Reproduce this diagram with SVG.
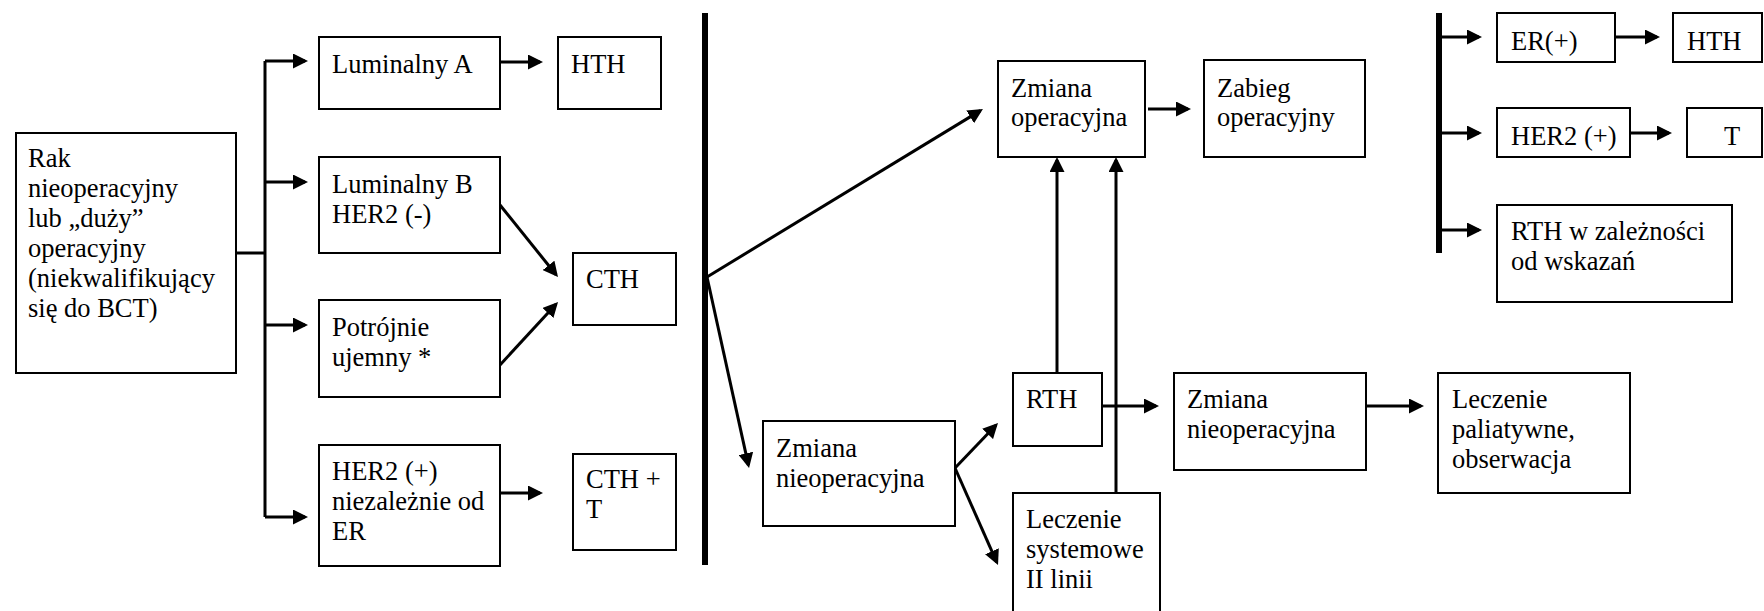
<svg xmlns="http://www.w3.org/2000/svg" width="1764" height="611" viewBox="0 0 1764 611">
<defs>
<marker id="ah" markerUnits="userSpaceOnUse" markerWidth="15" markerHeight="15" refX="12" refY="7.5" orient="auto">
<path d="M0,0 L15,7.5 L0,15 z" fill="#000"/>
</marker>
<style>
.box{fill:#fff;stroke:#000;stroke-width:2}
text{font-family:"Liberation Serif","Times New Roman",serif;font-size:26.5px;fill:#000}
.ln{stroke:#000;stroke-width:3;fill:none}
.ar{stroke:#000;stroke-width:3;fill:none;marker-end:url(#ah)}
.bar{stroke:#000;stroke-width:6;fill:none}
</style>
</defs>
<rect width="1764" height="611" fill="#fff"/>

<g id="connectors">
<line class="bar" x1="705" y1="13" x2="705" y2="565"/>
<line class="bar" x1="1439" y1="13" x2="1439" y2="253"/>
<line class="ln" x1="236" y1="253" x2="265" y2="253"/>
<line class="ln" x1="265" y1="61" x2="265" y2="517"/>
<line class="ar" x1="265" y1="61" x2="305" y2="61"/>
<line class="ar" x1="265" y1="182" x2="305" y2="182"/>
<line class="ar" x1="265" y1="325" x2="305" y2="325"/>
<line class="ar" x1="265" y1="517" x2="305" y2="517"/>
<line class="ar" x1="500" y1="62" x2="540" y2="62"/>
<line class="ar" x1="500" y1="205" x2="556.1" y2="274.7"/>
<line class="ar" x1="500" y1="365" x2="556" y2="304.2"/>
<line class="ar" x1="500" y1="493" x2="540" y2="493"/>
<line class="ar" x1="707" y1="277" x2="980.4" y2="110.6"/>
<line class="ar" x1="707" y1="277" x2="748.4" y2="465.1"/>
<line class="ar" x1="1148" y1="109" x2="1188" y2="109"/>
<line class="ar" x1="1057" y1="373" x2="1057" y2="160"/>
<line class="ar" x1="1116" y1="493" x2="1116" y2="160"/>
<line class="ar" x1="955" y1="468" x2="995.9" y2="425.2"/>
<line class="ar" x1="955" y1="468" x2="996.8" y2="562.3"/>
<line class="ar" x1="1102" y1="406" x2="1156" y2="406"/>
<line class="ar" x1="1366" y1="406" x2="1421" y2="406"/>
<line class="ar" x1="1442" y1="37" x2="1479" y2="37"/>
<line class="ar" x1="1442" y1="133" x2="1479" y2="133"/>
<line class="ar" x1="1442" y1="230" x2="1479" y2="230"/>
<line class="ar" x1="1615" y1="37" x2="1657" y2="37"/>
<line class="ar" x1="1630" y1="133" x2="1669" y2="133"/>
</g>

<g id="rak">
<rect class="box" x="16" y="133" width="220" height="240"/>
<text x="28" y="167">Rak</text>
<text x="28" y="197">nieoperacyjny</text>
<text x="28" y="227">lub „duży”</text>
<text x="28" y="257">operacyjny</text>
<text x="28" y="287">(niekwalifikujący</text>
<text x="28" y="317">się do BCT)</text>
</g>

<g id="lumA">
<rect class="box" x="319" y="37" width="181" height="72"/>
<text x="332" y="73">Luminalny A</text>
</g>

<g id="hth1">
<rect class="box" x="558" y="37" width="103" height="72"/>
<text x="571" y="73">HTH</text>
</g>

<g id="lumB">
<rect class="box" x="319" y="157" width="181" height="96"/>
<text x="332" y="193">Luminalny B</text>
<text x="332" y="223">HER2 (-)</text>
</g>

<g id="cth">
<rect class="box" x="573" y="253" width="103" height="72"/>
<text x="586" y="288">CTH</text>
</g>

<g id="potrojnie">
<rect class="box" x="319" y="300" width="181" height="97"/>
<text x="332" y="336">Potrójnie</text>
<text x="332" y="366">ujemny *</text>
</g>

<g id="her2">
<rect class="box" x="319" y="445" width="181" height="121"/>
<text x="332" y="480">HER2 (+)</text>
<text x="332" y="510">niezależnie od</text>
<text x="332" y="540">ER</text>
</g>

<g id="ctht">
<rect class="box" x="573" y="454" width="103" height="96"/>
<text x="586" y="488">CTH +</text>
<text x="586" y="518">T</text>
</g>

<g id="zmianaOp">
<rect class="box" x="998" y="61" width="147" height="96"/>
<text x="1011" y="97">Zmiana</text>
<text x="1011" y="126">operacyjna</text>
</g>

<g id="zabieg">
<rect class="box" x="1204" y="60" width="161" height="97"/>
<text x="1217" y="97">Zabieg</text>
<text x="1217" y="126">operacyjny</text>
</g>

<g id="zmianaNieop">
<rect class="box" x="763" y="421" width="192" height="105"/>
<text x="776" y="457">Zmiana</text>
<text x="776" y="487">nieoperacyjna</text>
</g>

<g id="rth">
<rect class="box" x="1013" y="373" width="89" height="73"/>
<text x="1026" y="408">RTH</text>
</g>

<g id="leczSys">
<rect class="box" x="1013" y="493" width="147" height="130"/>
<text x="1026" y="528">Leczenie</text>
<text x="1026" y="558">systemowe</text>
<text x="1026" y="588">II linii</text>
</g>

<g id="zmianaNieop2">
<rect class="box" x="1174" y="373" width="192" height="97"/>
<text x="1187" y="408">Zmiana</text>
<text x="1187" y="438">nieoperacyjna</text>
</g>

<g id="leczPal">
<rect class="box" x="1438" y="373" width="192" height="120"/>
<text x="1452" y="408">Leczenie</text>
<text x="1452" y="438">paliatywne,</text>
<text x="1452" y="468">obserwacja</text>
</g>

<g id="erPlus">
<rect class="box" x="1497" y="13" width="118" height="49"/>
<text x="1511" y="50">ER(+)</text>
</g>

<g id="hth2">
<rect class="box" x="1673" y="13" width="89" height="49"/>
<text x="1687" y="50">HTH</text>
</g>

<g id="her2r">
<rect class="box" x="1497" y="108" width="133" height="49"/>
<text x="1511" y="145">HER2 (+)</text>
</g>

<g id="tbox">
<rect class="box" x="1687" y="108" width="75" height="49"/>
<text x="1724" y="145">T</text>
</g>

<g id="rthWsk">
<rect class="box" x="1497" y="205" width="235" height="97"/>
<text x="1511" y="240">RTH w zależności</text>
<text x="1511" y="270">od wskazań</text>
</g>
</svg>
